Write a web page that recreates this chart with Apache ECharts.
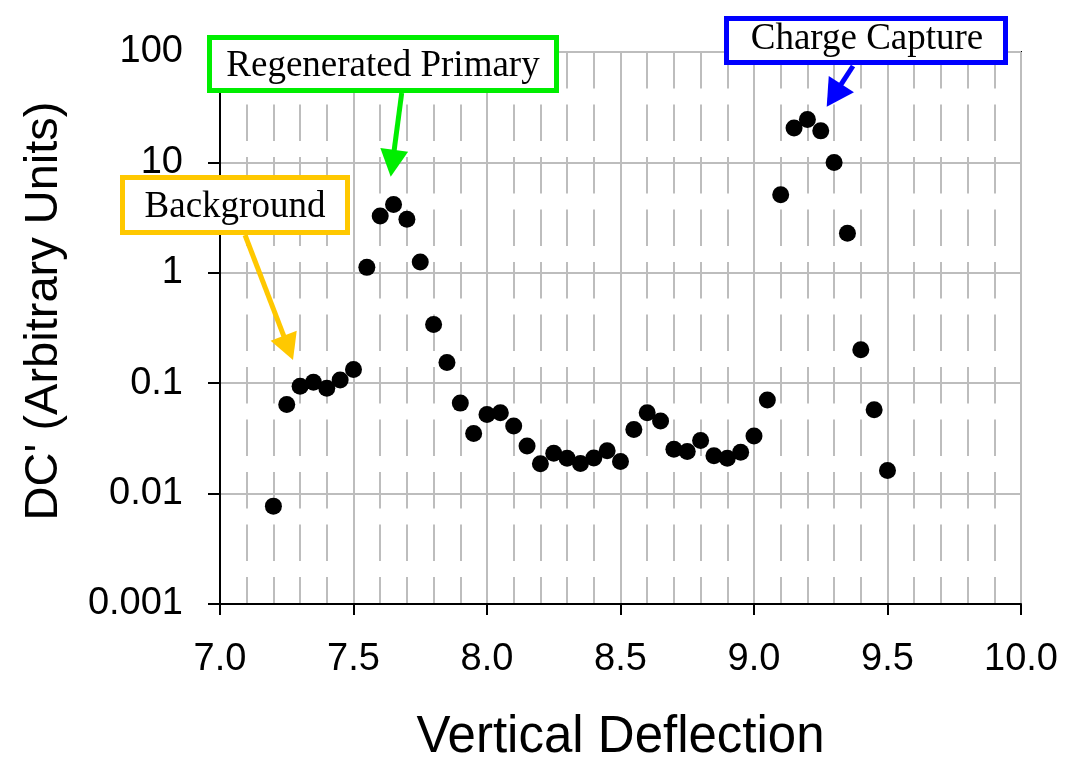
<!DOCTYPE html>
<html>
<head>
<meta charset="utf-8">
<script src="https://cdn.jsdelivr.net/npm/echarts@6/dist/echarts.min.js"></script>
<style>
html,body{margin:0;padding:0;background:#fff;}
#chart{width:1066px;height:768px;}
</style>
</head>
<body>
<div id="chart"></div>
<script>
// ---- data ----
var deflection = [7.20,7.25,7.30,7.35,7.40,7.45,7.50,7.55,7.60,7.65,7.70,7.75,7.80,7.85,7.90,7.95,
  8.00,8.05,8.10,8.15,8.20,8.25,8.30,8.35,8.40,8.45,8.50,8.55,8.60,8.65,8.70,8.75,8.80,8.85,8.90,8.95,
  9.00,9.05,9.10,9.15,9.20,9.25,9.30,9.35,9.40,9.45,9.50];
var dcValues = [0.0077,0.064,0.094,0.102,0.090,0.107,0.133,1.12,3.27,4.16,3.05,1.25,0.34,0.154,0.066,0.035,
  0.052,0.054,0.041,0.027,0.0186,0.0232,0.0209,0.0187,0.021,0.0245,0.0195,0.038,0.054,0.0455,0.0252,0.0241,0.0303,0.022,0.0209,0.0237,
  0.0333,0.0706,5.1,20.5,24.5,19.3,10.0,2.28,0.201,0.0574,0.0162];
var xTickLabels = ['7.0','7.5','8.0','8.5','9.0','9.5','10.0'];
var yTickLabels = ['0.001','0.01','0.1','1','10','100'];
var xTitle = 'Vertical Deflection';
var yTitle = "DC' (Arbitrary Units)";
var annotations = ['Background','Regenerated Primary','Charge Capture'];

var points = deflection.map(function(x,i){return [x, dcValues[i]];});

var chart = echarts.init(document.getElementById('chart'));
var GRID = '#bdbdbd';
var SANS = "'Liberation Sans', Arial, sans-serif";
var SERIF = "'Liberation Serif', 'Times New Roman', serif";

function arrow(x1,y1,x2,y2,headLen,headW,color){
  var dx=x2-x1, dy=y2-y1, L=Math.sqrt(dx*dx+dy*dy), ux=dx/L, uy=dy/L;
  var bx=x2-ux*headLen, by=y2-uy*headLen, px=-uy, py=ux;
  return [
    {type:'line', z:100, shape:{x1:x1,y1:y1,x2:bx+ux*2,y2:by+uy*2}, style:{stroke:color,lineWidth:5}},
    {type:'polygon', z:100, shape:{points:[[x2,y2],[bx+px*headW/2,by+py*headW/2],[bx-px*headW/2,by-py*headW/2]]}, style:{fill:color}}
  ];
}
function box(x,y,w,h,color,text,cx,cy){
  return [
    {type:'rect', z:100, shape:{x:x,y:y,width:w,height:h}, style:{fill:'#fff',stroke:color,lineWidth:5}},
    {type:'text', z:101, x:cx, y:cy, style:{text:text, font:'37px '+SERIF, fill:'#000', align:'center', verticalAlign:'middle'}}
  ];
}

var graphics = [].concat(
  arrow(245,235,293,360,26,28,'#ffc800'),
  box(122.5,177.5,225,55,'#ffc800',annotations[0],235,207),
  arrow(401.7,93,390.7,176.7,27,28,'#00ee00'),
  box(209.5,37.5,347,53,'#00ee00',annotations[1],383,66),
  arrow(853,66,826.7,106.7,27,30,'#0000ff'),
  box(726.5,18.5,279,44,'#0000ff',annotations[2],867,39)
);

chart.setOption({
  animation:false,
  backgroundColor:'#fff',
  grid:{left:220,right:45,top:52,bottom:156,show:true,borderColor:'#000',borderWidth:2,backgroundColor:'transparent'},
  xAxis:{
    type:'value', min:7, max:10, interval:0.5,
    name:xTitle, nameLocation:'middle', nameGap:108,
    nameTextStyle:{fontFamily:SANS,fontSize:51,color:'#000'},
    axisLine:{show:true,onZero:false,lineStyle:{color:'#000',width:2}},
    axisTick:{show:true,inside:false,length:11,lineStyle:{color:'#000',width:2}},
    axisLabel:{margin:37,fontFamily:SANS,fontSize:38,color:'#000',
      formatter:function(v){var i=Math.round((v-7)/0.5);return xTickLabels[i]!==undefined?xTickLabels[i]:v.toFixed(1);}},
    splitLine:{show:true,lineStyle:{color:GRID,width:2}},
    minorTick:{show:false,splitNumber:5},
    minorSplitLine:{show:true,lineStyle:{color:GRID,width:2,type:[36.5,16]}}
  },
  yAxis:{
    type:'log', logBase:10, min:0.001, max:100,
    name:yTitle, nameLocation:'middle', nameRotate:90, nameGap:152,
    nameTextStyle:{fontFamily:SANS,fontSize:47,color:'#000',padding:[0,0,0,34]},
    axisLine:{show:true,onZero:false,lineStyle:{color:'#000',width:2}},
    axisTick:{show:true,inside:false,length:12,lineStyle:{color:'#000',width:2}},
    axisLabel:{margin:37,fontFamily:SANS,fontSize:38,color:'#000',
      formatter:function(v){var e=Math.round(Math.log10(v))+3;return yTickLabels[e]!==undefined?yTickLabels[e]:String(v);}},
    splitLine:{show:true,lineStyle:{color:GRID,width:2}}
  },
  series:[{
    type:'scatter', data:points, symbol:'circle', symbolSize:17,
    itemStyle:{color:'#000',opacity:1}, z:10
  }],
  graphic:graphics
});
</script>
</body>
</html>
